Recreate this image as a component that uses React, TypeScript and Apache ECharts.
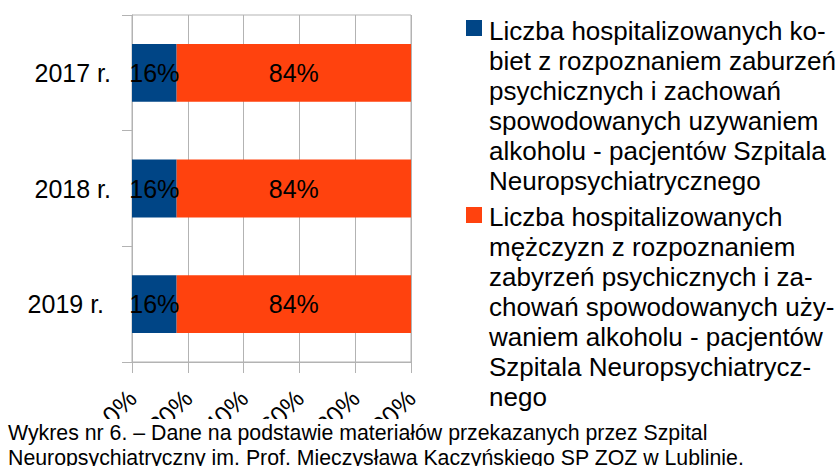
import React, { useEffect, useRef } from "react";
import * as echarts from "echarts";

const categories = ["2017 r.", "2018 r.", "2019 r. "];
const womenValues = [16, 16, 16];
const menValues = [84, 84, 84];
const womenLegendLines = [
  "Liczba hospitalizowanych ko-",
  "biet z rozpoznaniem zaburzeń",
  "psychicznych i zachowań",
  "spowodowanych uzywaniem",
  "alkoholu - pacjentów Szpitala",
  "Neuropsychiatrycznego",
];
const menLegendLines = [
  "Liczba hospitalizowanych",
  "mężczyzn z rozpoznaniem",
  "zabyrzeń psychicznych i za-",
  "chowań spowodowanych uży-",
  "waniem alkoholu - pacjentów",
  "Szpitala Neuropsychiatrycz-",
  "nego",
];
const captionLines = [
  "Wykres nr 6. – Dane na podstawie materiałów przekazanych przez Szpital",
  "Neuropsychiatryczny im. Prof. Mieczysława Kaczyńskiego SP ZOZ w Lublinie.",
];

const BLUE = "#004586";
const ORANGE = "#ff420e";
const GRID = "#b3b3b3";
const FONT = "'Liberation Sans', Arial, sans-serif";

export default function App() {
  const ref = useRef<HTMLDivElement>(null);
  useEffect(() => {
    if (!ref.current) return;
    const chart = echarts.init(ref.current, null, { renderer: "svg" });
    const womenName = womenLegendLines.join(" ");
    const menName = menLegendLines.join(" ");
    const labelStyle = {
      show: true,
      position: "inside" as const,
      color: "#000",
      fontSize: 25,
      fontFamily: FONT,
      formatter: "{c}%",
    };
    chart.setOption({
      animation: false,
      backgroundColor: "#fff",
      textStyle: { fontFamily: FONT },
      grid: {
        left: 132,
        right: 428,
        top: 15,
        bottom: 104,
        show: true,
        borderColor: GRID,
        borderWidth: 1,
      },
      xAxis: {
        type: "value",
        min: 0,
        max: 100,
        interval: 20,
        axisLine: { show: true, lineStyle: { color: GRID } },
        axisTick: { show: true, length: 11, lineStyle: { color: GRID } },
        splitLine: { show: true, lineStyle: { color: GRID } },
        axisLabel: {
          formatter: "{value}%",
          rotate: 45,
          margin: 32,
          color: "#000",
          fontSize: 25,
          fontFamily: FONT,
        },
      },
      yAxis: {
        type: "category",
        inverse: true,
        data: categories,
        axisLine: { show: true, lineStyle: { color: GRID } },
        axisTick: { show: true, length: 10, lineStyle: { color: GRID } },
        axisLabel: {
          margin: 21,
          color: "#000",
          fontSize: 25,
          fontFamily: FONT,
        },
      },
      series: [
        {
          name: womenName,
          type: "bar",
          stack: "total",
          barWidth: "50%",
          data: womenValues,
          itemStyle: { color: BLUE },
          label: labelStyle,
        },
        {
          name: menName,
          type: "bar",
          stack: "total",
          barWidth: "50%",
          data: menValues,
          itemStyle: { color: ORANGE },
          label: labelStyle,
        },
      ],
      graphic: [
        { type: "rect", z: 100, shape: { x: 0, y: 419, width: 460, height: 47 }, style: { fill: "#fff" } },
        { type: "rect", z: 101, shape: { x: 466, y: 20, width: 16, height: 16 }, style: { fill: BLUE } },
        {
          type: "text",
          z: 101,
          x: 489,
          y: 16,
          style: {
            text: womenLegendLines.join("\n"),
            fontSize: 26,
            lineHeight: 30,
            fontFamily: FONT,
            fill: "#000",
            verticalAlign: "top",
          },
        },
        { type: "rect", z: 101, shape: { x: 466, y: 207, width: 16, height: 16 }, style: { fill: ORANGE } },
        {
          type: "text",
          z: 101,
          x: 489,
          y: 202,
          style: {
            text: menLegendLines.join("\n"),
            fontSize: 26,
            lineHeight: 30,
            fontFamily: FONT,
            fill: "#000",
            verticalAlign: "top",
          },
        },
        {
          type: "text",
          z: 102,
          x: 8,
          y: 420,
          style: {
            text: captionLines.join("\n"),
            fontSize: 21.3,
            lineHeight: 25,
            fontFamily: FONT,
            fill: "#000",
            verticalAlign: "top",
          },
        },
      ],
    });
    return () => chart.dispose();
  }, []);
  return (
    <div
      ref={ref}
      style={{ position: "fixed", left: 0, top: 0, width: 839, height: 466 }}
    />
  );
}
